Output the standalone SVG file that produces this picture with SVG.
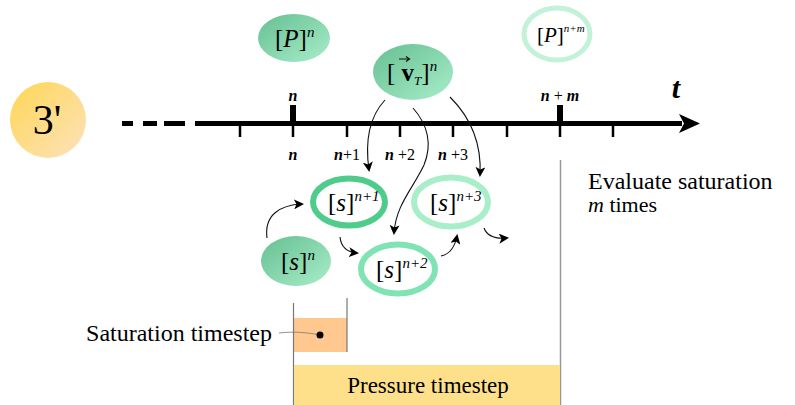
<svg xmlns="http://www.w3.org/2000/svg" width="795" height="405" viewBox="0 0 795 405" font-family="serif">
<style>
.dlab{font-size:22px}
.dmath{font-size:25px}
.dsup{font-size:15px;font-style:italic}
.dit{font-style:italic}
.dtk{font-size:16px}
.dbi{font-weight:bold;font-style:italic}
.tick{stroke:#000;stroke-width:2.5}
.conn{fill:none;stroke:#111;stroke-width:1.1}
</style>
<defs>
<linearGradient id="gy" x1="0" y1="0" x2="1" y2="1"><stop offset="0" stop-color="#FFD655"/><stop offset="1" stop-color="#FCE2BC"/></linearGradient>
<linearGradient id="gg" x1="0" y1="0" x2="1" y2="1"><stop offset="0" stop-color="#66BF91"/><stop offset="1" stop-color="#A8EDCA"/></linearGradient>
<marker id="ah" viewBox="0 0 10 10" refX="8" refY="5" markerWidth="10" markerHeight="10" markerUnits="userSpaceOnUse" orient="auto">
<path d="M0,0 L10,5 L0,10 L2.5,5 Z" fill="#000"/>
</marker>
</defs>
<rect width="795" height="405" fill="#fff"/>

<g id="step">
<circle cx="48" cy="120" r="38" fill="url(#gy)"/>
<text font-family="Liberation Serif, serif" x="47" y="134" font-size="42" text-anchor="middle">3'</text>
</g>

<g id="axis">
<path d="M122,123.5 H133 M143,123.5 H157 M164,123.5 H185 M195,123.5 H682" stroke="#000" stroke-width="5" fill="none"/>
<path d="M679,114 L700,123.5 L679,133 L684,123.5 Z" fill="#000"/>
<path class="tick" d="M240,123 V137 M293,123 V137 M347,123 V137 M400,123 V137 M453,123 V137 M507,123 V137 M560,123 V137 M613,123 V137"/>
<rect x="290" y="105" width="6" height="19" fill="#000"/>
<rect x="557" y="105" width="6" height="19" fill="#000"/>
<text font-family="Liberation Serif, serif" class="dtk dbi" x="293" y="101" text-anchor="middle">n</text>
<text font-family="Liberation Serif, serif" class="dtk" x="560" y="101" text-anchor="middle"><tspan class="dbi">n</tspan> + <tspan class="dbi">m</tspan></text>
<text font-family="Liberation Serif, serif" class="dbi" x="676" y="98" font-size="30" text-anchor="middle">t</text>
<text font-family="Liberation Serif, serif" class="dtk dbi" x="293" y="160" text-anchor="middle">n</text>
<text font-family="Liberation Serif, serif" class="dtk" x="347" y="160" text-anchor="middle"><tspan class="dbi">n</tspan>+1</text>
<text font-family="Liberation Serif, serif" class="dtk" x="400" y="160" text-anchor="middle"><tspan class="dbi">n</tspan> +2</text>
<text font-family="Liberation Serif, serif" class="dtk" x="453" y="160" text-anchor="middle"><tspan class="dbi">n</tspan> +3</text>
</g>

<g id="Pn">
<ellipse cx="294" cy="38" rx="36" ry="24" fill="url(#gg)"/>
<text font-family="Liberation Serif, serif" class="dmath" x="275" y="47">[<tspan class="dit">P</tspan>]<tspan class="dsup" dy="-10">n</tspan></text>
</g>

<g id="Pnm">
<ellipse cx="557" cy="34" rx="33" ry="26" fill="none" stroke="#C2F2D8" stroke-width="5"/>
<text font-family="Liberation Serif, serif" x="537" y="42" font-size="21">[<tspan class="dit">P</tspan>]<tspan font-size="11" class="dit" dy="-10">n+m</tspan></text>
</g>

<g id="vT">
<ellipse cx="413" cy="72" rx="40" ry="28" fill="url(#gg)"/>
<text font-family="Liberation Serif, serif" class="dmath" x="387" y="81">[ <tspan font-weight="bold">v</tspan><tspan font-size="13" class="dit" dy="4">T</tspan><tspan dy="-4">]</tspan><tspan class="dsup" dy="-10">n</tspan></text>
<path d="M399,59 H409 M406,56.5 L409.5,59 L406,61.5" stroke="#111" stroke-width="1.2" fill="none"/>
</g>

<g id="sn">
<ellipse cx="296" cy="261" rx="35" ry="25" fill="url(#gg)"/>
<text font-family="Liberation Serif, serif" class="dmath" x="281" y="270">[<tspan class="dit">s</tspan>]<tspan class="dsup" dy="-10">n</tspan></text>
</g>

<g id="sn1">
<ellipse cx="349" cy="202" rx="36" ry="23.5" fill="none" stroke="#4FCC8C" stroke-width="6"/>
<text font-family="Liberation Serif, serif" class="dmath" x="328" y="211">[<tspan class="dit">s</tspan>]<tspan class="dsup" dy="-10">n+1</tspan></text>
</g>

<g id="sn2">
<ellipse cx="398" cy="269" rx="37" ry="24.5" fill="none" stroke="#80E3B3" stroke-width="6"/>
<text font-family="Liberation Serif, serif" class="dmath" x="376" y="278">[<tspan class="dit">s</tspan>]<tspan class="dsup" dy="-10">n+2</tspan></text>
</g>

<g id="sn3">
<ellipse cx="451" cy="202" rx="37" ry="24.5" fill="none" stroke="#A8EEC8" stroke-width="6"/>
<text font-family="Liberation Serif, serif" class="dmath" x="430" y="211">[<tspan class="dit">s</tspan>]<tspan class="dsup" dy="-10">n+3</tspan></text>
</g>

<g id="connectors">
<path class="conn" marker-end="url(#ah)" d="M267,238 C264,215 280,205 302,204"/>
<path class="conn" marker-end="url(#ah)" d="M340,237 C341,247 346,252 357,253"/>
<path class="conn" marker-end="url(#ah)" d="M441,256 C451,254 455,246 457,236"/>
<path class="conn" marker-end="url(#ah)" d="M484,228 C487,236 495,239 507,238"/>
<path class="conn" marker-end="url(#ah)" d="M385,100 C372,114 364,135 369,170"/>
<path class="conn" marker-end="url(#ah)" d="M413,108 C428,125 432,145 424,165 C412,190 396,205 394,233"/>
<path class="conn" marker-end="url(#ah)" d="M450,97 C468,115 482,140 480,175"/>
</g>

<g id="evaluate">
<line x1="560.5" y1="160" x2="560.5" y2="405" stroke="#999" stroke-width="1.5"/>
<text font-family="Liberation Serif, serif" x="588" y="189" font-size="24">Evaluate saturation</text>
<text font-family="Liberation Serif, serif" class="dlab" x="588" y="212"><tspan class="dit">m</tspan> times</text>
</g>

<g id="saturation">
<rect x="293" y="318" width="54" height="34" fill="#FFC88F"/>
<line x1="293.5" y1="303" x2="293.5" y2="405" stroke="#777" stroke-width="1.2"/>
<line x1="347" y1="298" x2="347" y2="352" stroke="#777" stroke-width="1.2"/>
<path d="M279,333 C295,331 310,333 320,335" fill="none" stroke="#777" stroke-width="0.8"/>
<circle cx="320" cy="335" r="3.5" fill="#000"/>
<text font-family="Liberation Serif, serif" x="272" y="341" font-size="24" text-anchor="end">Saturation timestep</text>
</g>

<g id="pressure">
<rect x="294" y="365" width="266" height="40" fill="#FFE08A"/>
<text font-family="Liberation Serif, serif" x="428" y="393" font-size="23" text-anchor="middle">Pressure timestep</text>
</g>
</svg>
